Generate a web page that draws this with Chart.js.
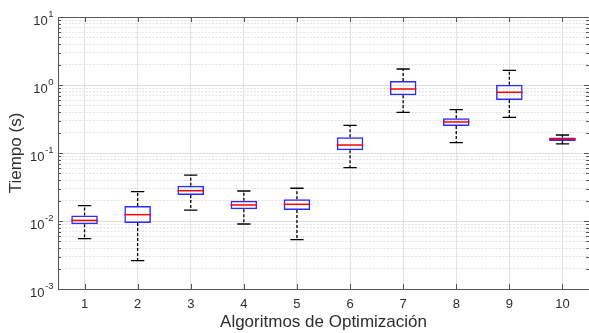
<!DOCTYPE html>
<html>
<head>
<meta charset="utf-8">
<script src="https://cdn.jsdelivr.net/npm/chart.js@4.4.1/dist/chart.umd.min.js"></script>
<style>
  html, body { margin: 0; padding: 0; background: #fff; }
  #wrap { width: 589px; height: 333px; }
</style>
</head>
<body>
<div id="wrap"><canvas id="chart"></canvas></div>
<script>
// data (seconds)
const algorithms = ["1", "2", "3", "4", "5", "6", "7", "8", "9", "10"];
const whiskerLow = [0.00549, 0.00261, 0.0145, 0.00904, 0.00531, 0.0608, 0.397, 0.142, 0.335, 0.136];
const quartile1 = [0.00894, 0.00935, 0.0241, 0.0149, 0.0145, 0.110, 0.705, 0.249, 0.601, 0.150];
const medians = [0.0102, 0.0124, 0.0279, 0.0172, 0.0176, 0.131, 0.873, 0.286, 0.781, 0.159];
const quartile3 = [0.0120, 0.0166, 0.0330, 0.0199, 0.0208, 0.170, 1.146, 0.324, 1.01, 0.169];
const whiskerHigh = [0.0168, 0.0270, 0.0474, 0.0276, 0.0303, 0.255, 1.72, 0.434, 1.64, 0.184];

// y axis decades, 10^-3 .. 10^1
const yTickExponents = [-3, -2, -1, 0, 1];

const FONT = "'Liberation Sans', Arial, Helvetica, sans-serif";
const TEXT = "#2e2e2e";
const AXIS = "#555555";

// minor ticks 2..9 inside every decade
const minorTicks = [];
for (let i = 0; i < yTickExponents.length - 1; i++) {
  for (let k = 2; k <= 9; k++) {
    minorTicks.push({ value: k * Math.pow(10, yTickExponents[i]) });
  }
}

const boxPlotLines = {
  id: "boxPlotLines",
  beforeDatasetsDraw(chart) {
    // whiskers + caps, behind the boxes
    const { ctx, scales: { x, y } } = chart;
    const capHalf = (x.getPixelForValue(1) - x.getPixelForValue(0)) * 0.125;
    ctx.save();
    ctx.strokeStyle = "#000";
    ctx.lineWidth = 1.3;
    algorithms.forEach((a, i) => {
      const cx = x.getPixelForValue(i);
      const lo = y.getPixelForValue(whiskerLow[i]);
      const hi = y.getPixelForValue(whiskerHigh[i]);
      const b1 = y.getPixelForValue(quartile1[i]);
      const b3 = y.getPixelForValue(quartile3[i]);
      ctx.setLineDash([3, 2]);
      ctx.beginPath();
      ctx.moveTo(cx, b3);
      ctx.lineTo(cx, hi);
      ctx.moveTo(cx, b1);
      ctx.lineTo(cx, lo);
      ctx.stroke();
      ctx.setLineDash([]);
      ctx.beginPath();
      ctx.moveTo(cx - capHalf, hi);
      ctx.lineTo(cx + capHalf, hi);
      ctx.moveTo(cx - capHalf, lo);
      ctx.lineTo(cx + capHalf, lo);
      ctx.stroke();
    });
    ctx.restore();
  },
  afterDatasetsDraw(chart) {
    // red medians on top of the boxes
    const { ctx, scales: { x, y } } = chart;
    const boxHalf = (x.getPixelForValue(1) - x.getPixelForValue(0)) * 0.25;
    ctx.save();
    ctx.strokeStyle = "#ff0000";
    ctx.lineWidth = 1.5;
    medians.forEach((m, i) => {
      const cx = x.getPixelForValue(i);
      const my = y.getPixelForValue(m);
      ctx.beginPath();
      ctx.moveTo(cx - boxHalf, my);
      ctx.lineTo(cx + boxHalf, my);
      ctx.stroke();
    });
    ctx.restore();
  },
  afterDraw(chart) {
    const { ctx, chartArea: area, scales: { x, y } } = chart;
    ctx.save();
    ctx.strokeStyle = AXIS;
    ctx.lineWidth = 1;

    // top frame line
    ctx.beginPath();
    ctx.moveTo(area.left, Math.round(area.top) + 0.5);
    ctx.lineTo(area.right, Math.round(area.top) + 0.5);
    ctx.stroke();

    // inward ticks, x at bottom and top
    ctx.beginPath();
    algorithms.forEach((a, i) => {
      const px = Math.round(x.getPixelForValue(i)) + 0.5;
      ctx.moveTo(px, area.bottom);
      ctx.lineTo(px, area.bottom - 5);
      ctx.moveTo(px, area.top);
      ctx.lineTo(px, area.top + 5);
    });
    // inward ticks, y on left and right
    yTickExponents.forEach((e) => {
      const py = Math.round(y.getPixelForValue(Math.pow(10, e))) + 0.5;
      ctx.moveTo(area.left, py);
      ctx.lineTo(area.left + 5, py);
      ctx.moveTo(area.right, py);
      ctx.lineTo(area.right - 5, py);
    });
    minorTicks.forEach((t) => {
      const py = Math.round(y.getPixelForValue(t.value)) + 0.5;
      ctx.moveTo(area.left, py);
      ctx.lineTo(area.left + 3, py);
      ctx.moveTo(area.right, py);
      ctx.lineTo(area.right - 3, py);
    });
    ctx.stroke();

    // y tick labels as 10 with a raised exponent
    ctx.fillStyle = TEXT;
    ctx.textAlign = "right";
    ctx.textBaseline = "middle";
    const rightEdge = area.left - 4.5;
    yTickExponents.forEach((e) => {
      const py = y.getPixelForValue(Math.pow(10, e));
      const exp = e < 0 ? "-" + Math.abs(e) : String(e);
      ctx.font = "9.5px " + FONT;
      const expWidth = ctx.measureText(exp).width;
      ctx.fillText(exp, rightEdge, py - 3);
      ctx.font = "13px " + FONT;
      ctx.fillText("10", rightEdge - expWidth - 0.5, py + 4.5);
    });
    ctx.restore();
  },
};

new Chart(document.getElementById("chart"), {
  type: "bar",
  data: {
    labels: algorithms,
    datasets: [
      {
        data: quartile1.map((q, i) => [q, quartile3[i]]),
        backgroundColor: "rgba(255,255,255,0)",
        borderColor: "#2b2bff",
        borderWidth: 1.5,
        borderSkipped: false,
        barPercentage: 0.5,
        categoryPercentage: 1,
      },
    ],
  },
  options: {
    responsive: true,
    maintainAspectRatio: false,
    animation: false,
    layout: { padding: { top: 17, right: -2, bottom: 0, left: 0 } },
    plugins: { legend: { display: false }, tooltip: { enabled: false } },
    scales: {
      x: {
        type: "category",
        offset: true,
        grid: { offset: false, color: "#e2e2e2", drawTicks: false },
        border: { color: AXIS, width: 1 },
        ticks: { font: { family: FONT, size: 13 }, color: TEXT, padding: 8, maxRotation: 0 },
        title: {
          display: true,
          text: "Algoritmos de Optimización",
          font: { family: FONT, size: 17 },
          color: TEXT,
          padding: { top: 0, bottom: 0 },
        },
        afterFit: (s) => { s.height = 44; },
      },
      y: {
        type: "logarithmic",
        position: "left",
        min: 1e-3,
        max: 10,
        afterBuildTicks: (s) => {
          s.ticks = yTickExponents.map((e) => ({ value: Math.pow(10, e) }));
        },
        afterFit: (s) => { s.width = 58; },
        ticks: { display: false },
        grid: { color: "#dedede", drawTicks: false },
        border: { color: AXIS, width: 1 },
        title: {
          display: true,
          text: "Tiempo (s)",
          font: { family: FONT, size: 17 },
          color: TEXT,
          padding: { top: 6, bottom: 0 },
        },
      },
      yMinor: {
        type: "logarithmic",
        position: "left",
        min: 1e-3,
        max: 10,
        afterBuildTicks: (s) => { s.ticks = minorTicks.slice(); },
        afterFit: (s) => { s.width = 0; },
        ticks: { display: false },
        grid: { color: "#e3e3e3", drawTicks: false },
        border: { display: false, dash: [2, 1.5] },
      },
    },
  },
  plugins: [boxPlotLines],
});
</script>
</body>
</html>
